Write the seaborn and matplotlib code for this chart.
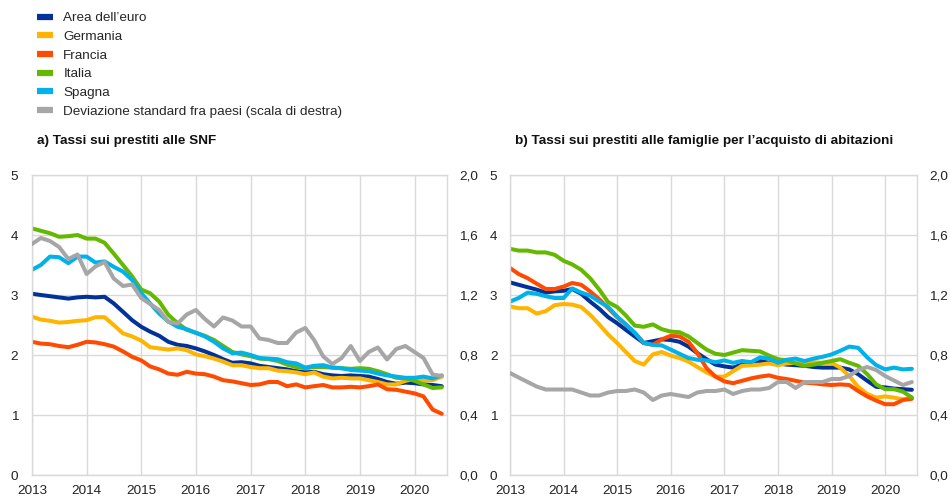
import matplotlib
matplotlib.use("Agg")
import matplotlib.pyplot as plt
import matplotlib.ticker as mticker
import matplotlib.dates as mdates
from matplotlib.lines import Line2D
import seaborn as sns
import pandas as pd
import numpy as np

# ---------------- data (bi-monthly, Jan 2013 - Jul 2020) ----------------
dates = pd.date_range("2013-01-01", periods=46, freq="2MS")

series_names = ["Area dell\u2019euro", "Germania", "Francia", "Italia", "Spagna"]
sd_name = "Deviazione standard fra paesi (scala di destra)"

# a) Tassi sui prestiti alle SNF
euro_a = [3.02, 3.00, 2.98, 2.96, 2.94, 2.96, 2.97, 2.96, 2.97, 2.86, 2.72, 2.58,
          2.47, 2.39, 2.32, 2.22, 2.17, 2.15, 2.11, 2.06, 2.00, 1.93, 1.87, 1.88,
          1.86, 1.82, 1.80, 1.78, 1.76, 1.73, 1.71, 1.72, 1.68, 1.66, 1.65, 1.66,
          1.65, 1.64, 1.60, 1.55, 1.52, 1.54, 1.53, 1.51, 1.50, 1.48]
ger_a = [2.64, 2.59, 2.57, 2.54, 2.55, 2.57, 2.58, 2.63, 2.63, 2.50, 2.36, 2.31,
         2.24, 2.13, 2.11, 2.09, 2.11, 2.08, 2.01, 1.98, 1.94, 1.89, 1.83, 1.83,
         1.80, 1.78, 1.78, 1.74, 1.73, 1.71, 1.68, 1.71, 1.64, 1.61, 1.62, 1.61,
         1.61, 1.58, 1.55, 1.51, 1.51, 1.57, 1.60, 1.58, 1.58, 1.64]
fra_a = [2.22, 2.19, 2.18, 2.15, 2.13, 2.17, 2.22, 2.21, 2.18, 2.14, 2.06, 1.97,
         1.91, 1.81, 1.76, 1.69, 1.67, 1.72, 1.69, 1.68, 1.64, 1.58, 1.56, 1.53,
         1.50, 1.51, 1.55, 1.55, 1.48, 1.51, 1.46, 1.48, 1.50, 1.46, 1.46, 1.47,
         1.46, 1.48, 1.51, 1.43, 1.42, 1.39, 1.36, 1.31, 1.09, 1.02]
ita_a = [4.11, 4.07, 4.03, 3.97, 3.98, 4.00, 3.94, 3.94, 3.87, 3.69, 3.50, 3.31,
         3.09, 3.03, 2.89, 2.67, 2.53, 2.42, 2.37, 2.32, 2.25, 2.15, 2.05, 2.01,
         1.98, 1.94, 1.93, 1.90, 1.84, 1.80, 1.78, 1.80, 1.80, 1.79, 1.78, 1.77,
         1.78, 1.77, 1.73, 1.68, 1.62, 1.61, 1.57, 1.51, 1.45, 1.46]
spa_a = [3.42, 3.50, 3.64, 3.63, 3.53, 3.64, 3.64, 3.54, 3.56, 3.47, 3.39, 3.25,
         3.03, 2.86, 2.69, 2.56, 2.47, 2.43, 2.37, 2.31, 2.22, 2.11, 2.03, 2.04,
         2.00, 1.95, 1.94, 1.93, 1.88, 1.86, 1.79, 1.82, 1.83, 1.79, 1.78, 1.75,
         1.74, 1.73, 1.69, 1.66, 1.64, 1.62, 1.62, 1.64, 1.61, 1.66]
sd_a = [1.54, 1.58, 1.56, 1.52, 1.44, 1.47, 1.34, 1.39, 1.42, 1.31, 1.26, 1.27,
        1.18, 1.14, 1.10, 1.02, 1.01, 1.07, 1.10, 1.04, 0.99, 1.05, 1.03, 0.99,
        0.99, 0.91, 0.90, 0.88, 0.88, 0.95, 0.98, 0.90, 0.79, 0.74, 0.78, 0.86,
        0.76, 0.82, 0.85, 0.77, 0.84, 0.86, 0.82, 0.78, 0.67, 0.66]

# b) Tassi sui prestiti alle famiglie per l'acquisto di abitazioni
euro_b = [3.21, 3.17, 3.13, 3.09, 3.04, 3.06, 3.07, 3.10, 3.02, 2.89, 2.77, 2.63,
          2.53, 2.42, 2.31, 2.20, 2.23, 2.26, 2.25, 2.22, 2.14, 2.03, 1.93, 1.84,
          1.81, 1.79, 1.84, 1.87, 1.90, 1.87, 1.86, 1.84, 1.83, 1.82, 1.80, 1.79,
          1.79, 1.79, 1.76, 1.68, 1.57, 1.47, 1.46, 1.44, 1.43, 1.42]
ger_b = [2.81, 2.78, 2.78, 2.69, 2.73, 2.83, 2.85, 2.84, 2.80, 2.67, 2.51, 2.34,
         2.20, 2.05, 1.90, 1.84, 2.01, 2.05, 1.99, 1.95, 1.89, 1.80, 1.71, 1.64,
         1.64, 1.73, 1.82, 1.83, 1.84, 1.86, 1.83, 1.86, 1.87, 1.87, 1.88, 1.87,
         1.87, 1.79, 1.65, 1.47, 1.35, 1.29, 1.31, 1.29, 1.26, 1.29]
fra_b = [3.45, 3.35, 3.28, 3.19, 3.10, 3.10, 3.14, 3.20, 3.17, 3.06, 2.93, 2.78,
         2.63, 2.51, 2.37, 2.20, 2.17, 2.26, 2.32, 2.31, 2.22, 2.03, 1.78, 1.64,
         1.56, 1.53, 1.57, 1.61, 1.64, 1.66, 1.62, 1.60, 1.57, 1.54, 1.53, 1.51,
         1.50, 1.51, 1.50, 1.40, 1.31, 1.24, 1.18, 1.18, 1.25, 1.27]
ita_b = [3.77, 3.74, 3.74, 3.71, 3.71, 3.67, 3.57, 3.51, 3.42, 3.28, 3.09, 2.88,
         2.80, 2.66, 2.49, 2.47, 2.51, 2.43, 2.39, 2.38, 2.31, 2.20, 2.09, 2.02,
         2.00, 2.04, 2.08, 2.07, 2.06, 1.99, 1.93, 1.91, 1.86, 1.82, 1.84, 1.87,
         1.90, 1.93, 1.87, 1.82, 1.68, 1.51, 1.43, 1.43, 1.39, 1.29]
spa_b = [2.89, 2.95, 3.04, 3.02, 2.98, 2.95, 2.95, 3.11, 3.04, 2.99, 2.89, 2.80,
         2.64, 2.51, 2.37, 2.20, 2.17, 2.16, 2.09, 2.02, 1.95, 1.92, 1.91, 1.88,
         1.91, 1.87, 1.90, 1.88, 1.96, 1.94, 1.87, 1.92, 1.94, 1.90, 1.94, 1.97,
         2.01, 2.07, 2.14, 2.12, 1.96, 1.83, 1.76, 1.79, 1.76, 1.77]
sd_b = [0.68, 0.65, 0.62, 0.59, 0.57, 0.57, 0.57, 0.57, 0.55, 0.53, 0.53, 0.55,
        0.56, 0.56, 0.57, 0.55, 0.50, 0.53, 0.54, 0.53, 0.52, 0.55, 0.56, 0.56,
        0.57, 0.54, 0.56, 0.57, 0.57, 0.58, 0.62, 0.62, 0.58, 0.62, 0.62, 0.62,
        0.64, 0.64, 0.66, 0.70, 0.72, 0.70, 0.66, 0.63, 0.60, 0.62]

titles = ["a) Tassi sui prestiti alle SNF",
          "b) Tassi sui prestiti alle famiglie per l\u2019acquisto di abitazioni"]
year_ticks = list(range(2013, 2021))
left_ticks = [0, 1, 2, 3, 4, 5]
right_ticks = [0.0, 0.4, 0.8, 1.2, 1.6, 2.0]

colors = ["#003299", "#ffb400", "#ff4b00", "#65b800", "#00b1ea"]
sd_color = "#a6a6a6"
grid_color = "#d9d9d9"

# ---------------- style ----------------
sns.set_theme(style="white")
plt.rcParams["font.family"] = ["Liberation Sans", "DejaVu Sans"]
FS = 9.7

fig = plt.figure(figsize=(9.5, 4.97), dpi=100)
W, H = 950, 497
panels = [
    (32, 447, [euro_a, ger_a, fra_a, ita_a, spa_a], sd_a),
    (510, 917, [euro_b, ger_b, fra_b, ita_b, spa_b], sd_b),
]
ytop, ybot = 175, 475

for i, (x0, x1, vals, sd) in enumerate(panels):
    ax = fig.add_axes([x0 / W, 1 - ybot / H, (x1 - x0) / W, (ybot - ytop) / H])
    df = pd.DataFrame({"date": dates})
    for name, v in zip(series_names, vals):
        df[name] = v
    long = df.melt(id_vars="date", var_name="serie", value_name="val")
    sns.lineplot(data=long, x="date", y="val", hue="serie", hue_order=series_names,
                 palette=colors, linewidth=2.9, ax=ax, legend=False)
    ax.set_xlim(pd.Timestamp("2013-01-01"), pd.Timestamp("2020-08-05"))
    ax.set_ylim(0, 5)
    ax.set_yticks(left_ticks)
    ax.set_xticks([pd.Timestamp(f"{y}-01-01") for y in year_ticks])
    ax.xaxis.set_major_formatter(mdates.DateFormatter("%Y"))
    ax.set_xlabel("")
    ax.set_ylabel("")
    ax.grid(True, color=grid_color, linewidth=1.0)
    ax.set_axisbelow(True)
    for s in ax.spines.values():
        s.set_color(grid_color)
        s.set_linewidth(1.0)
    ax.tick_params(axis="both", length=0, labelsize=FS, colors="#222222")
    ax.tick_params(axis="y", pad=10 if i == 0 else 9)
    ax.tick_params(axis="x", pad=7)

    ax2 = ax.twinx()
    sd_df = pd.DataFrame({"date": dates, "sd": sd})
    sns.lineplot(data=sd_df, x="date", y="sd", color=sd_color, linewidth=2.9, ax=ax2)
    ax2.set_ylim(0, 2.0)
    ax2.set_yticks(right_ticks)
    ax2.yaxis.set_major_formatter(mticker.FuncFormatter(lambda v, p: f"{v:.1f}".replace(".", ",")))
    ax2.set_ylabel("")
    ax2.grid(False)
    for s in ax2.spines.values():
        s.set_visible(False)
    ax2.tick_params(axis="y", length=0, labelsize=FS, colors="#222222", pad=9)

    fig.text((x0 + 5) / W, 1 - 141 / H, titles[i], fontsize=FS, fontweight="bold",
             ha="left", va="center", color="#111111")

handles = [Line2D([0], [0], color=c, linewidth=4.5, solid_capstyle="butt")
           for c in colors + [sd_color]]
labels = series_names + [sd_name]
fig.legend(handles, labels, loc="upper left", bbox_to_anchor=(37 / W, 1 - 12 / H),
           frameon=False, fontsize=FS, handlelength=1.2, handletextpad=0.75,
           labelspacing=0.46, borderaxespad=0, borderpad=0)

fig.savefig("out.png", dpi=100)
